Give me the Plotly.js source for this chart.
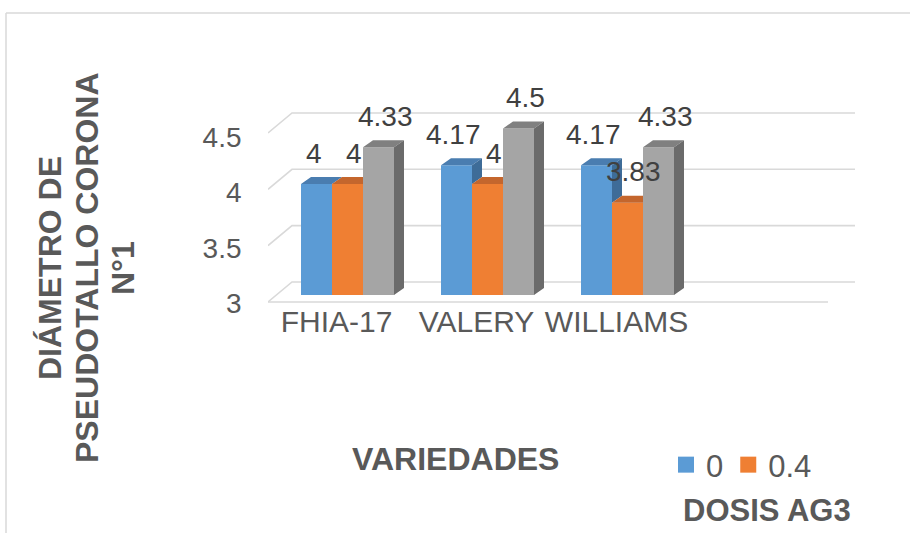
<!DOCTYPE html>
<html>
<head>
<meta charset="utf-8">
<script src="https://cdn.plot.ly/plotly-3.0.1.min.js"></script>
<style>html,body{margin:0;padding:0;background:#fff;}#chart{width:910px;height:533px;}</style>
</head>
<body>
<div id="chart"></div>
<script>
// ---- data ----
const categories = ['FHIA-17', 'VALERY', 'WILLIAMS'];
const seriesNames = ['0', '0.4', '0.8'];
const dose0 = [4, 4.17, 4.17];
const dose04 = [4, 4, 3.83];
const dose08 = [4.33, 4.5, 4.33];
const yTicks = [3, 3.5, 4, 4.5];
const yTickText = ['3', '3.5', '4', '4.5'];
const yTitleLines = ['DIÁMETRO DE', 'PSEUDOTALLO CORONA', 'N°1'];
const xTitle = 'VARIEDADES';
const legendTitle = 'DOSIS AG3';

// ---- styling / geometry ----
const W = 910, H = 533;
const FONT = 'Liberation Sans, Arial, sans-serif';
const frontCol = ['#5b9bd5', '#ef7f33', '#a5a5a5'];
const topCol = ['#4a7db0', '#c4662d', '#808080'];
const sideCol = ['#3e6c98', '#b05a26', '#6b6b6b'];
const px = v => v / W;          // x pixel -> paper
const py = v => 1 - v / H;      // y pixel -> paper

// front (bars) subplot
const fx0 = 277.5, fx1 = 697.5;
const pxPerCat = (fx1 - fx0) / 3;
const fyBottom = 295, fyTop = 80, pxPerUnit = 111;
const yFloor = yTicks[0];
const y2range = [yFloor, yFloor + (fyBottom - fyTop) / pxPerUnit];
const bw = 31 / pxPerCat;
const dX = 10 / pxPerCat, dY = 7 / pxPerUnit;
const labelDrop = 8.5;

// back wall subplot
const bx0 = 268, bx1 = 855, byBottom = 310, byTop = 100, backFloor = 282, backPx = 112.7;
const y1range = [yFloor - (byBottom - backFloor) / backPx, yFloor + (backFloor - byTop) / backPx];
const sideOff = 20 / backPx;
const xBack = (292 - bx0) / (bx1 - bx0);
const xFrontEnd = (828 - bx0) / (bx1 - bx0);

const series = [dose0, dose04, dose08];
const xs = categories.map((c, j) => j);

const traces = [];
const gx = [], gy = [];
yTicks.forEach(v => { gx.push(0, xBack, 1, null); gy.push(v - sideOff, v, v, null); });
gx.push(0, xFrontEnd); gy.push(yFloor - sideOff, yFloor - sideOff);
traces.push({type: 'scatter', mode: 'lines', x: gx, y: gy, xaxis: 'x', yaxis: 'y',
  line: {color: '#d9d9d9', width: 1.6}, hoverinfo: 'skip', showlegend: false});

series.forEach((vals, i) => {
  traces.push({type: 'bar', name: seriesNames[i], x: xs, y: vals, xaxis: 'x2', yaxis: 'y2',
    width: bw, offset: -1.5 * bw + i * bw, marker: {color: frontCol[i], line: {width: 0}},
    showlegend: false, hoverinfo: 'x+y'});
});
series.forEach((vals, i) => {
  const tx = [], ty = [], sx = [], sy = [];
  vals.forEach((v, j) => {
    const x0 = j - 1.5 * bw + i * bw, x1 = x0 + bw;
    const vn = i < series.length - 1 ? series[i + 1][j] : yFloor;
    if (vn > v) { tx.push(x0, x0 + dX, x1, x1, null); ty.push(v, v + dY, v + dY, v, null); }
    else { tx.push(x0, x0 + dX, x1 + dX, x1, null); ty.push(v, v + dY, v + dY, v, null); }
    if (v > vn) { sx.push(x1, x1 + dX, x1 + dX, x1, null); sy.push(v, v + dY, vn + dY, vn, null); }
  });
  traces.push({type: 'scatter', mode: 'lines', x: tx, y: ty, xaxis: 'x2', yaxis: 'y2', fill: 'toself',
    fillcolor: topCol[i], line: {width: 0, color: topCol[i]}, hoverinfo: 'skip', showlegend: false});
  if (sx.length) traces.push({type: 'scatter', mode: 'lines', x: sx, y: sy, xaxis: 'x2', yaxis: 'y2', fill: 'toself',
    fillcolor: sideCol[i], line: {width: 0, color: sideCol[i]}, hoverinfo: 'skip', showlegend: false});
});
// legend entries (square swatches)
[0, 1].forEach(i => {
  traces.push({type: 'scatter', mode: 'markers', name: seriesNames[i], x: [null], y: [null], xaxis: 'x2', yaxis: 'y2',
    marker: {symbol: 'square', size: 16, color: frontCol[i]}, showlegend: true, hoverinfo: 'skip'});
});
// hidden anchor trace for the tick-label axis
traces.push({type: 'scatter', mode: 'markers', x: [null], y: [null], xaxis: 'x2', yaxis: 'y3', showlegend: false, hoverinfo: 'skip'});

const labelShift = [-3, 6, 7];
const annotations = [];
series.forEach((vals, i) => {
  vals.forEach((v, j) => {
    annotations.push({xref: 'x2', yref: 'y2', x: j - 1.5 * bw + i * bw + bw / 2, y: v, text: String(v),
      showarrow: false, xanchor: 'center', yanchor: 'middle', xshift: labelShift[i], yshift: 31,
      font: {family: FONT, size: 28, color: '#404040'}});
  });
});
const titleX = [50, 87, 123];
yTitleLines.forEach((t, k) => {
  annotations.push({xref: 'paper', yref: 'paper', x: px(titleX[k]), y: py(268), text: '<b>' + t + '</b>', textangle: -90,
    showarrow: false, xanchor: 'center', yanchor: 'middle', font: {family: FONT, size: 32, color: '#595959'}});
});
annotations.push({xref: 'paper', yref: 'paper', x: px(455), y: py(459), text: '<b>' + xTitle + '</b>',
  showarrow: false, xanchor: 'center', yanchor: 'middle', font: {family: FONT, size: 32, color: '#595959'}});
annotations.push({xref: 'paper', yref: 'paper', x: px(767), y: py(510), text: '<b>' + legendTitle + '</b>',
  showarrow: false, xanchor: 'center', yanchor: 'middle', font: {family: FONT, size: 31, color: '#595959'}});

const layout = {
  width: W, height: H, margin: {l: 0, r: 0, t: 0, b: 0},
  paper_bgcolor: '#ffffff', plot_bgcolor: 'rgba(0,0,0,0)',
  font: {family: FONT, color: '#595959'},
  barmode: 'overlay',
  xaxis: {domain: [px(bx0), px(bx1)], range: [0, 1], visible: false, fixedrange: true},
  yaxis: {domain: [py(byBottom), py(byTop)], range: y1range, visible: false, fixedrange: true},
  xaxis2: {domain: [px(fx0), px(fx1)], range: [-0.5, 2.5], anchor: 'y2', tickvals: xs, ticktext: categories,
    tickangle: 0, showgrid: false, zeroline: false, showline: false, ticks: '',
    tickfont: {family: FONT, size: 30, color: '#595959'}, ticklabelshift: -11, ticklabelstandoff: 6},
  yaxis2: {domain: [py(fyBottom), py(fyTop)], range: y2range, anchor: 'x2',
    showgrid: false, zeroline: false, showline: false, ticks: '', showticklabels: false},
  yaxis3: {domain: [py(fyBottom + labelDrop), py(fyTop + labelDrop)], range: y2range, anchor: 'x2',
    tickvals: yTicks, ticktext: yTickText, showgrid: false, zeroline: false, showline: false, ticks: '',
    tickfont: {family: FONT, size: 28, color: '#595959'}, ticklabelstandoff: 35},
  showlegend: true,
  legend: {orientation: 'h', x: px(666), y: py(465), xanchor: 'left', yanchor: 'middle',
    font: {family: FONT, size: 31, color: '#595959'}, bgcolor: 'rgba(0,0,0,0)', traceorder: 'normal',
    itemsizing: 'trace'},
  annotations: annotations,
  shapes: [
    {type: 'line', xref: 'paper', yref: 'paper', x0: px(6), x1: 1.02, y0: py(13), y1: py(13), line: {color: '#d9d9d9', width: 1.5}},
    {type: 'line', xref: 'paper', yref: 'paper', x0: px(6), x1: px(6), y0: py(13), y1: -0.02, line: {color: '#d9d9d9', width: 1.5}}
  ]
};

Plotly.newPlot('chart', traces, layout, {staticPlot: true});
</script>
</body>
</html>
